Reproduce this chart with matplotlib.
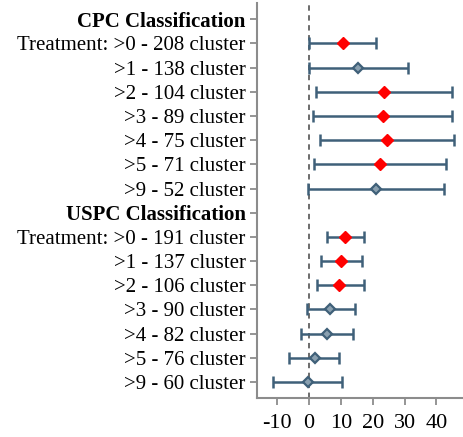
import numpy as np
import matplotlib
matplotlib.use("Agg")
import matplotlib.pyplot as plt

# DATA #
labels = ['CPC Classification',
          'Treatment: >0 - 208 cluster', '>1 - 138 cluster', '>2 - 104 cluster',
          '>3 - 89 cluster', '>4 - 75 cluster', '>5 - 71 cluster', '>9 - 52 cluster',
          'USPC Classification',
          'Treatment: >0 - 191 cluster', '>1 - 137 cluster', '>2 - 106 cluster',
          '>3 - 90 cluster', '>4 - 82 cluster', '>5 - 76 cluster', '>9 - 60 cluster']
headings = ['CPC Classification', 'USPC Classification']

# estimate, lower, upper (nan for heading rows)
est = [np.nan, 10.5, 15.3, 23.4, 23.1, 24.4, 22.2, 21.0,
       np.nan, 11.4, 10.1, 9.5, 6.7, 5.6, 1.7, -0.5]
lo = [np.nan, 0.0, -0.2, 2.0, 1.2, 3.3, 1.5, -0.3,
      np.nan, 5.7, 3.6, 2.4, -0.7, -2.5, -6.2, -11.4]
hi = [np.nan, 20.9, 31.0, 45.0, 45.0, 45.6, 42.9, 42.3,
      np.nan, 17.3, 16.7, 17.1, 14.5, 13.8, 9.5, 10.3]
significant = [False, True, False, True, True, True, True, False,
               False, True, True, True, False, False, False, False]
xticks = [-10, 0, 10, 20, 30, 40]

# STYLE #
bar_col = '#3f6079'
red = '#ff0000'
spine_col = '#8c8c8c'
font = ['Liberation Serif', 'DejaVu Serif']

fig = plt.figure(figsize=(4.64, 4.37), dpi=100)
ax = fig.add_axes([0.5546, 0.0899, 0.4454, 0.9032])

n = len(labels)
ypos = np.arange(n)[::-1] + 1  # top row is highest
est = np.array(est); lo = np.array(lo); hi = np.array(hi)
sig = np.array(significant)
row = ~np.isnan(est)

ax.axvline(0, color='#606060', linestyle=(0, (3, 2.5)), linewidth=1.3, zorder=1)
ax.errorbar(est[row], ypos[row], xerr=[est[row] - lo[row], hi[row] - est[row]],
            fmt='none', ecolor=bar_col, elinewidth=1.8, capsize=4.5, capthick=1.8, zorder=2)
# blue (non significant) markers
m = row & ~sig
ax.plot(est[m], ypos[m], linestyle='none', marker='D', markersize=5,
        markerfacecolor='#8aa0b0', markeredgecolor=bar_col, markeredgewidth=1.6, zorder=3)
# red (significant) markers
m = row & sig
ax.plot(est[m], ypos[m], linestyle='none', marker='D', markersize=6.5,
        color=red, zorder=3)

ax.set_xlim(-16.3, 48.7)
ax.set_ylim(ypos.min() - 0.65, ypos.max() + 0.67)
ax.set_yticks(ypos)
ax.set_yticklabels(labels, fontsize=15, family=font)
for t in ax.get_yticklabels():
    if t.get_text() in headings:
        t.set_fontweight('bold')
ax.set_xticks(xticks)
ax.set_xticklabels([str(v) for v in xticks], fontsize=16, family=font)

for s in ['top', 'right']:
    ax.spines[s].set_visible(False)
for s in ['left', 'bottom']:
    ax.spines[s].set_color(spine_col)
    ax.spines[s].set_linewidth(1.5)
ax.tick_params(axis='both', colors=spine_col, width=1.3, length=5, labelcolor='black')
ax.tick_params(axis='x', pad=7)

fig.savefig('out.png', dpi=100)
